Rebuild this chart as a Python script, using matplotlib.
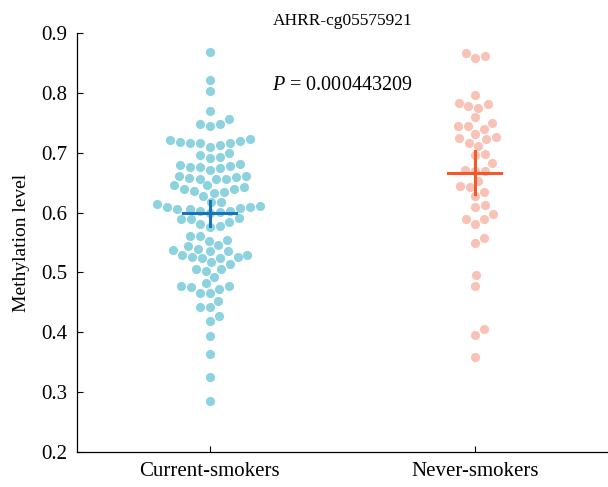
import numpy as np
import matplotlib
matplotlib.use("Agg")
import matplotlib.pyplot as plt

groups = ["Current-smokers", "Never-smokers"]

current_smokers = [
    0.868, 0.821, 0.803, 0.769, 0.756, 0.748, 0.744, 0.748,
    0.721, 0.718, 0.717, 0.713, 0.710, 0.717, 0.717, 0.719, 0.723,
    0.693, 0.692, 0.697, 0.700,
    0.679, 0.676, 0.674, 0.672, 0.676, 0.678, 0.682,
    0.661, 0.658, 0.656, 0.657, 0.657, 0.660, 0.662,
    0.646, 0.639, 0.635, 0.628, 0.646, 0.633, 0.636, 0.639, 0.642,
    0.611, 0.608, 0.603, 0.591, 0.606, 0.601, 0.618, 0.600, 0.606,
    0.617, 0.602, 0.609, 0.610, 0.614,
    0.584, 0.581, 0.576, 0.589, 0.578, 0.590,
    0.561, 0.554, 0.561, 0.553,
    0.546, 0.544, 0.536, 0.540,
    0.529, 0.529, 0.524, 0.517, 0.524, 0.525, 0.525, 0.536, 0.537,
    0.514, 0.505, 0.502, 0.506,
    0.492, 0.482,
    0.477, 0.472, 0.466, 0.466, 0.476, 0.477,
    0.453, 0.442, 0.442, 0.427, 0.419,
    0.394, 0.363, 0.325, 0.285,
]

never_smokers = [
    0.862, 0.859, 0.866, 0.796,
    0.781, 0.775, 0.779, 0.783, 0.759,
    0.750, 0.745, 0.740, 0.745, 0.732,
    0.726, 0.723, 0.712, 0.717, 0.724,
    0.696, 0.698, 0.683, 0.670, 0.669, 0.672, 0.653,
    0.634, 0.628, 0.643, 0.644, 0.612, 0.609,
    0.597, 0.589, 0.581, 0.589, 0.557, 0.549,
    0.495, 0.478, 0.405, 0.396, 0.358,
]

p_value = "0.000443209"
title = "AHRR-cg05575921"

dot_colors = ["#8dd3df", "#f9c2b6"]
mean_colors = ["#1b72b8", "#f15a2b"]

plt.rcParams["font.family"] = ["Liberation Serif", "DejaVu Serif"]
plt.rcParams["mathtext.fontset"] = "custom"
plt.rcParams["mathtext.it"] = "Liberation Serif:italic"
plt.rcParams["mathtext.rm"] = "Liberation Serif"


def swarm_offsets(ax, center, values, gap):
    """Simple beeswarm in display space; returns x offsets in data units."""
    trans = ax.transData
    ypix = np.array([trans.transform((center, v))[1] for v in values])
    x0 = trans.transform((center, 0))[0]
    x1 = trans.transform((center + 1, 0))[0]
    px_per_unit = x1 - x0
    order = np.argsort(ypix)
    placed = []
    xs = np.zeros(len(values))
    for i in order:
        y = ypix[i]
        near = [(px, py) for px, py in placed if abs(py - y) < gap]
        cands = [0.0]
        for px, py in near:
            dx = np.sqrt(gap ** 2 - (py - y) ** 2)
            cands += [px + dx, px - dx]
        cands.sort(key=abs)
        for c in cands:
            if all((c - px) ** 2 + (y - py) ** 2 >= gap ** 2 - 1e-6 for px, py in near):
                xs[i] = c
                placed.append((c, y))
                break
    return xs / px_per_unit


fig = plt.figure(figsize=(6.08, 4.87), dpi=100)
ax = fig.add_axes([0.127, 0.072, 0.872, 0.86])
ax.set_xlim(-0.5, 1.5)
ax.set_ylim(0.2, 0.9)

for i, vals in enumerate([current_smokers, never_smokers]):
    v = np.array(vals)
    off = swarm_offsets(ax, i, v, gap=10.2)
    ax.scatter(i + off, v, s=6.6 ** 2, color=dot_colors[i], linewidths=0, zorder=3)
    m = v.mean()
    ci = 1.96 * v.std(ddof=1) / np.sqrt(len(v))
    ax.plot([i - 0.1, i + 0.1], [m, m], color=mean_colors[i], lw=2.2, zorder=5)
    ax.plot([i, i], [m - ci, m + ci], color=mean_colors[i], lw=2.2, zorder=5)

ax.set_xticks(range(len(groups)))
ax.set_xticklabels(groups)
ticks = np.arange(0.2, 0.91, 0.1)
ax.set_yticks(ticks)
ax.set_yticklabels([f"{t:.1f}" for t in ticks])
ax.set_ylabel("Methylation level", fontsize=14, labelpad=8)
ax.tick_params(direction="in", length=4, labelsize=15, width=0.8)
ax.tick_params(axis="y", pad=7)
ax.tick_params(axis="x", pad=7)
ax.spines["top"].set_visible(False)
ax.spines["right"].set_visible(False)
for s in ["left", "bottom"]:
    ax.spines[s].set_linewidth(0.9)

ax.set_title(title, fontsize=12.5, pad=6)
ax.text(0.5, 0.813, r"$P$ = " + p_value, transform=ax.transData,
        ha="center", va="center", fontsize=14.5)

fig.savefig("out.png", dpi=100)
